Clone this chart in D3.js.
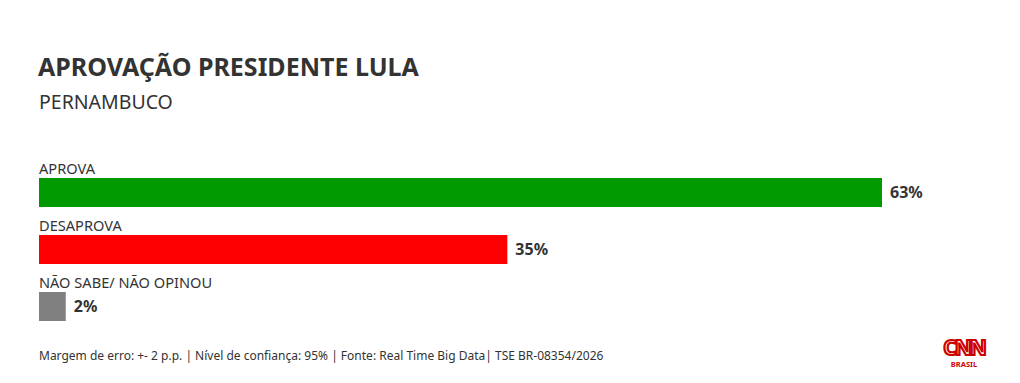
<!DOCTYPE html>
<html>
<head>
<meta charset="utf-8">
<script src="https://cdn.jsdelivr.net/npm/d3@7"></script>
<style>
  body { margin: 0; background: #fff; }
  text { font-family: "Source Sans Pro", "Noto Sans", sans-serif; }
</style>
</head>
<body>
<div id="chart"></div>
<script>
const categories = ['APROVA', 'DESAPROVA', 'NÃO SABE/ NÃO OPINOU'];
const values = [63, 35, 2];
const colors = ['#009900', '#ff0000', '#808080'];

const width = 1020, height = 383;
const left = 39;

const svg = d3.select('#chart')
  .append('svg')
  .attr('width', width)
  .attr('height', height);

// Titles
svg.append('text')
  .attr('x', 38).attr('y', 76)
  .attr('font-size', 25).attr('font-weight', 700)
  .attr('fill', '#333')
  .text('APROVAÇÃO PRESIDENTE LULA');

svg.append('text')
  .attr('x', 39).attr('y', 109)
  .attr('font-size', 19.5)
  .attr('fill', '#333')
  .text('PERNAMBUCO');

// Scales
const x = d3.scaleLinear().domain([0, 63]).range([0, 843]);
const y = d3.scaleBand().domain(categories).range([150, 321]).paddingInner(0.0);

const rows = svg.selectAll('g.row')
  .data(categories)
  .enter()
  .append('g')
  .attr('class', 'row')
  .attr('transform', d => `translate(${left}, ${y(d)})`);

const bw = y.bandwidth();

rows.append('text')
  .attr('x', 0).attr('y', 24)
  .attr('font-size', 14.6)
  .attr('fill', '#333')
  .text(d => d);

rows.append('rect')
  .attr('x', 0)
  .attr('y', bw - 29)
  .attr('height', 29)
  .attr('width', (d, i) => x(values[i]))
  .attr('fill', (d, i) => colors[i]);

rows.append('text')
  .attr('x', (d, i) => x(values[i]) + 8)
  .attr('y', bw - 14.5)
  .attr('dy', '0.35em')
  .attr('font-size', 16).attr('font-weight', 700)
  .attr('fill', '#333')
  .text((d, i) => values[i] + '%');

// Footnote
svg.append('text')
  .attr('x', 39).attr('y', 360)
  .attr('font-size', 12)
  .attr('fill', '#333')
  .text('Margem de erro: +- 2 p.p. | Nível de confiança: 95% | Fonte: Real Time Big Data| TSE BR-08354/2026');

// Logo
const logo = svg.append('g').attr('transform', 'translate(964, 0)');
logo.append('text')
  .attr('x', 0).attr('y', 355)
  .attr('text-anchor', 'middle')
  .attr('font-size', 21).attr('font-weight', 700)
  .attr('letter-spacing', -2)
  .attr('fill', '#fff')
  .attr('stroke', '#cc0000').attr('stroke-width', 2.2)
  .text('CNN');
logo.append('text')
  .attr('x', 0).attr('y', 367)
  .attr('text-anchor', 'middle')
  .attr('font-size', 7.5).attr('font-weight', 700)
  .attr('fill', '#cc0000')
  .text('BRASIL');
</script>
</body>
</html>
